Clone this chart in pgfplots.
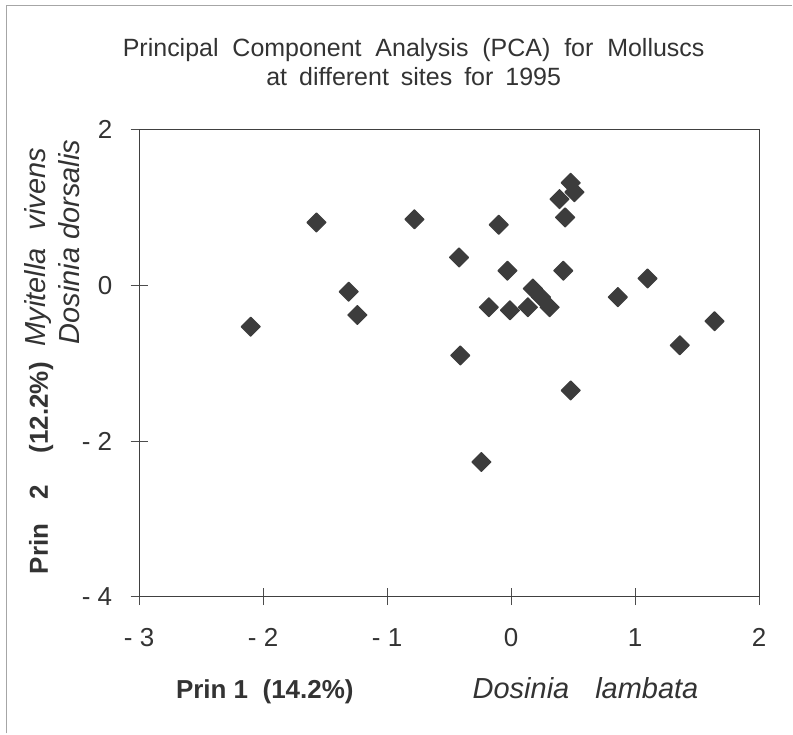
\documentclass[border=0pt]{standalone}
\usepackage{pgfplots}
\pgfplotsset{compat=1.18}
\usepackage{fontspec}
\setmainfont{Liberation Sans}
\definecolor{txt}{HTML}{333333}
\definecolor{mk}{HTML}{3C3C3C}
\begin{document}
\begin{tikzpicture}[x=1pt,y=1pt]
\path (0,0) rectangle (396.5,367);
\draw[gray!70, line width=0.6pt] (3.35,0) -- (3.35,364.2) -- (396.5,364.2);
\node[txt, align=center, font=\fontsize{12.5}{14.5}\selectfont, inner sep=0pt] at (207,336)
  {Principal\ \ Component\ \ Analysis\ \ (PCA)\ \ for\ \ Molluscs\\at\hspace{6pt}different\hspace{6pt}sites\hspace{6pt}for\hspace{6pt}1995};
\begin{axis}[
  at={(69.6pt,68.5pt)}, anchor=south west,
  scale only axis, width=310.3pt, height=233.5pt,
  xmin=-3, xmax=2, ymin=-4, ymax=2,
  xtick={-3,-2,-1,0,1,2}, xticklabels={- 3,- 2,- 1,0,1,2},
  ytick={-4,-2,0,2}, yticklabels={- 4,- 2,0,2},
  xtick pos=bottom, ytick pos=left,
  tick align=center, major tick length=8.5pt,
  tick style={black!70, line width=0.5pt},
  axis line style={black!75, line width=0.5pt},
  ticklabel style={txt, font=\fontsize{13}{15}\selectfont},
  xticklabel style={anchor=base, inner sep=0pt, yshift=-20.5pt},
  yticklabel style={inner sep=0pt},
  yticklabel shift=9pt,
  clip=false,
]
\addplot[only marks, mark=square*, mark size=3.35pt,
  mark options={rotate=45, fill=mk, draw=mk, line width=0.6pt, line join=round}]
coordinates {
(-2.10,-0.53) (-1.57,0.81) (-1.31,-0.08) (-1.24,-0.38) (-0.78,0.85)
(-0.42,0.36) (-0.41,-0.90) (-0.10,0.78) (-0.24,-2.27) (-0.18,-0.28)
(-0.03,0.19) (-0.01,-0.32) (0.135,-0.28) (0.175,-0.04) (0.24,-0.15)
(0.31,-0.28) (0.42,0.19) (0.435,0.875) (0.39,1.11) (0.48,1.32)
(0.51,1.20) (0.48,-1.35) (0.86,-0.15) (1.10,0.09) (1.36,-0.77)
(1.64,-0.46)
};
\end{axis}
\node[txt, anchor=base, font=\fontsize{13}{15}\selectfont\bfseries, inner sep=0pt] at (132.5,17.5) {Prin\ 1\ \ (14.2\%)};
\node[txt, anchor=base, font=\fontsize{14.5}{16}\selectfont\itshape, inner sep=0pt] at (293,17.5) {Dosinia\hspace{13pt}lambata};
\node[txt, rotate=90, anchor=base west, font=\fontsize{13}{15}\selectfont\bfseries, inner sep=0pt] at (24,79.5) {Prin\hspace{12pt}2\hspace{16pt}(12.2\%)};
\node[txt, rotate=90, anchor=base west, font=\fontsize{14.5}{16}\selectfont\itshape, inner sep=0pt] at (23,193.5) {Myitella\hspace{9pt}vivens};
\node[txt, rotate=90, anchor=base west, font=\fontsize{14.5}{16}\selectfont\itshape, inner sep=0pt] at (40,194.5) {Dosinia dorsalis};
\end{tikzpicture}
\end{document}
